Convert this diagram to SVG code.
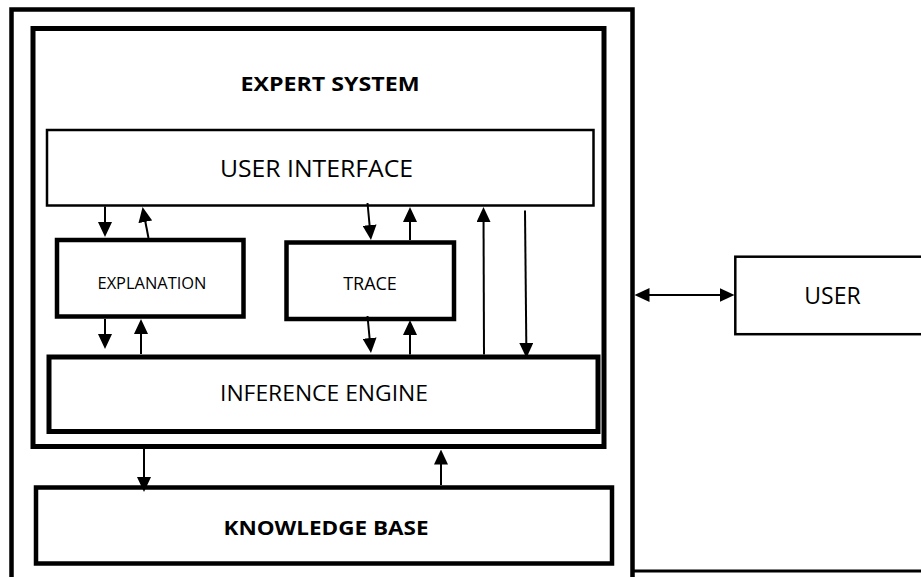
<svg xmlns="http://www.w3.org/2000/svg" width="921" height="577" viewBox="0 0 921 577">
  <style>
    .box { fill: #ffffff; stroke: #000000; }
    .thick { stroke-width: 5; }
    .mid { stroke-width: 4.5; }
    .thin { stroke-width: 2.5; }
    .lbl { font-family: "Open Sans", "Noto Sans", "Liberation Sans", sans-serif; fill: #000000; text-anchor: middle; }
    .bold { font-weight: bold; }
    .conn line { stroke: #000000; stroke-width: 2; marker-end: url(#ah); }
  </style>
  <defs>
    <!-- filled arrowhead; tip sits 4px past the line end -->
    <marker id="ah" viewBox="0 0 15 14" markerWidth="15" markerHeight="14" refX="11" refY="7" orient="auto-start-reverse" markerUnits="userSpaceOnUse">
      <path d="M0,0 L15,7 L0,14 z" fill="#000000"/>
    </marker>
  </defs>

  <rect width="921" height="577" fill="#ffffff"/>

  <!-- outer frame (open at the bottom) -->
  <g id="outer-frame" fill="none" stroke="#000000">
    <path d="M11.5,580 V9.5 H632.5 V580" stroke-width="4.5"/>
    <path d="M632.5,571 H925" stroke-width="3"/>
  </g>

  <g id="expert-system">
    <rect class="box thick" x="33" y="28.5" width="571" height="418"/>
    <text class="lbl bold" x="330" y="91" font-size="20" textLength="179" lengthAdjust="spacingAndGlyphs">EXPERT SYSTEM</text>
  </g>

  <g id="user-interface">
    <rect class="box thin" x="47" y="130" width="546.5" height="75.5"/>
    <text class="lbl" x="316.5" y="177" font-size="23" textLength="193" lengthAdjust="spacingAndGlyphs">USER INTERFACE</text>
  </g>

  <g id="explanation">
    <rect class="box mid" x="57" y="240" width="186.5" height="76.5"/>
    <text class="lbl" x="152" y="288.5" font-size="16" textLength="109" lengthAdjust="spacingAndGlyphs">EXPLANATION</text>
  </g>

  <g id="trace">
    <rect class="box mid" x="286.5" y="242.5" width="167.5" height="76.5"/>
    <text class="lbl" x="370" y="290" font-size="18">TRACE</text>
  </g>

  <g id="inference-engine">
    <rect class="box thick" x="49" y="357" width="549" height="74.5"/>
    <text class="lbl" x="324" y="401" font-size="22" textLength="208" lengthAdjust="spacingAndGlyphs">INFERENCE ENGINE</text>
  </g>

  <g id="knowledge-base">
    <rect class="box mid" x="36" y="487.5" width="576" height="76"/>
    <text class="lbl bold" x="326" y="535" font-size="20" textLength="205" lengthAdjust="spacingAndGlyphs">KNOWLEDGE BASE</text>
  </g>

  <g id="user">
    <rect class="box thin" x="735.3" y="256.7" width="200" height="77.5"/>
    <text class="lbl" x="832.5" y="304" font-size="23">USER</text>
  </g>

  <g id="connectors" class="conn">
    <!-- user interface <-> explanation -->
    <line x1="105" y1="206.5" x2="105" y2="233"/>
    <line x1="148.5" y1="238" x2="143.3" y2="211"/>
    <!-- explanation <-> inference engine -->
    <line x1="105" y1="319" x2="105" y2="345"/>
    <line x1="141" y1="354" x2="141" y2="323"/>
    <!-- user interface <-> trace -->
    <line x1="367.5" y1="203" x2="370.6" y2="236"/>
    <line x1="410" y1="240" x2="410" y2="211"/>
    <!-- trace <-> inference engine -->
    <line x1="367.5" y1="316" x2="370.6" y2="349"/>
    <line x1="410" y1="354.5" x2="410" y2="324"/>
    <!-- inference engine <-> user interface -->
    <line x1="484" y1="354.5" x2="483.5" y2="211"/>
    <line x1="525" y1="210.5" x2="526.4" y2="354"/>
    <!-- expert system <-> knowledge base -->
    <line x1="144" y1="449" x2="144" y2="488"/>
    <line x1="441" y1="485" x2="441" y2="453.5"/>
    <!-- frame <-> user -->
    <line x1="638.5" y1="295" x2="730.5" y2="295" marker-start="url(#ah)"/>
  </g>
</svg>
